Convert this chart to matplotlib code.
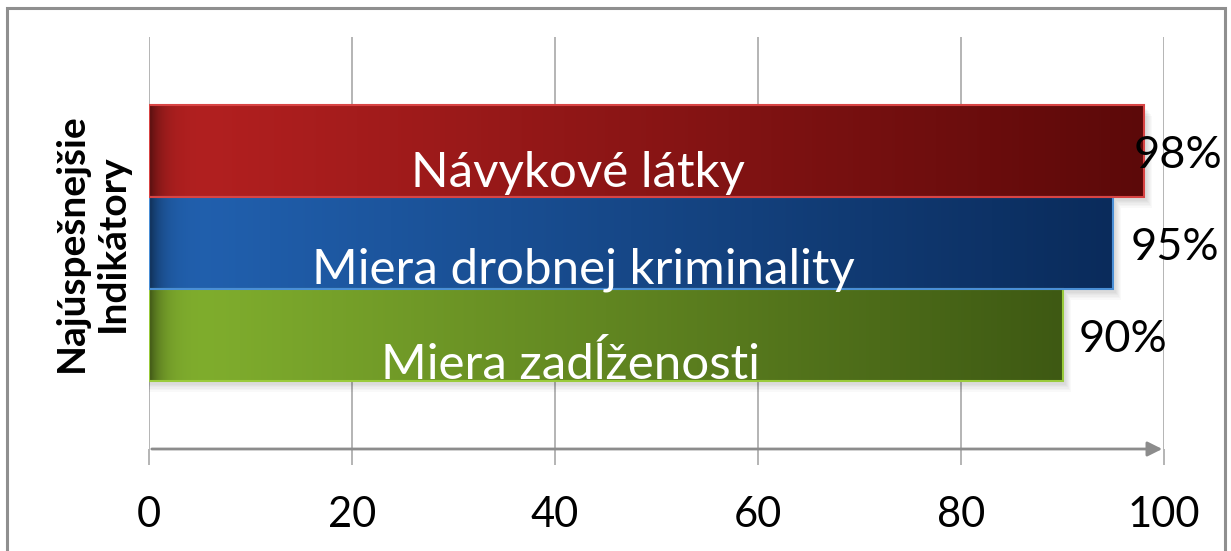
import numpy as np
import matplotlib.pyplot as plt
from matplotlib.colors import to_rgb
from matplotlib.patches import Rectangle

# data, bottom bar first
labels = ['Miera zadĺženosti', 'Miera drobnej kriminality', 'Návykové látky']
values = [90, 95, 98]
value_labels = ['90%', '95%', '98%']
left_colors = ['#84b32f', '#2263b3', '#b72121']
right_colors = ['#3e5913', '#0a2b5b', '#5c0909']
edge_colors = ['#9acb3c', '#4a8fd6', '#d84444']
xticks = [0, 20, 40, 60, 80, 100]
ylabel = 'Najúspešnejšie\nIndikátory'

plt.rcParams['font.family'] = ['Lato', 'DejaVu Sans']
W, H = 1231, 551
fig = plt.figure(figsize=(W/100, H/100), dpi=100)
ax = fig.add_axes([149/W, 1-449/H, (1164-149)/W, (449-37)/H])

# outer frame
fig.patches.append(Rectangle((7/W, -0.05), (1225-7)/W, 1.05-8/H, transform=fig.transFigure,
                             fill=False, edgecolor='#8f8f8f', lw=2.2))

pos = np.arange(len(values))
t = np.linspace(0, 1, 400)
for y, v, c0, c1 in zip(pos, values, left_colors, right_colors):
    # soft shadow
    for k in range(6):
        ax.barh(y - 0.04 - 0.015*k, v + 0.3 + 0.1*k, height=1, color='black', alpha=0.025, lw=0, zorder=1)
    grad = np.outer(1 - t, to_rgb(c0)) + np.outer(t, to_rgb(c1))
    shade = 1 - 0.5*np.exp(-t*v/1.3)
    grad = np.clip(grad*shade[:, None], 0, 1)
    ax.imshow(grad[np.newaxis], extent=(0, v, y - 0.5, y + 0.5), aspect='auto', zorder=2,
              interpolation='bilinear')
ax.barh(pos, values, height=1, fill=False, edgecolor=edge_colors, lw=1.5, zorder=3)

label_x = [41.5, 42.8, 42.3]
label_off = [0.02, 0.06, 0.11]
for y, lab, lx, off in zip(pos, labels, label_x, label_off):
    ax.text(lx, y - 0.5 + off, lab, color='white', fontsize=35.5, ha='center', va='baseline', zorder=4)
val_dx = [1.6, 1.7, -1.0]
for y, v, vl, dx in zip(pos, values, value_labels, val_dx):
    ax.text(v + dx, y - 0.5 + 0.32, vl, color='black', fontsize=32.5, ha='left', va='baseline', zorder=5)

ax.set_xlim(0, 100)
ax.set_ylim(-1.24, 3.24)
ax.set_xticks(xticks)
ax.set_yticks([])
ax.grid(axis='x', color='#a8a8a8', lw=1.2, zorder=0)
ax.set_axisbelow(True)
for s in ax.spines.values():
    s.set_visible(False)
ax.tick_params(axis='x', direction='out', length=11.5, width=1.2, color='#a8a8a8',
               labelsize=30, pad=22)
ax.annotate('', xy=(1.001, 0), xytext=(0, 0), xycoords='axes fraction',
            arrowprops=dict(arrowstyle='-|>', color='#8c8c8c', lw=2, mutation_scale=22))
ax.set_ylabel(ylabel, fontsize=28, fontweight='bold', labelpad=14, linespacing=1.2)

fig.savefig('out.png', dpi=100)
